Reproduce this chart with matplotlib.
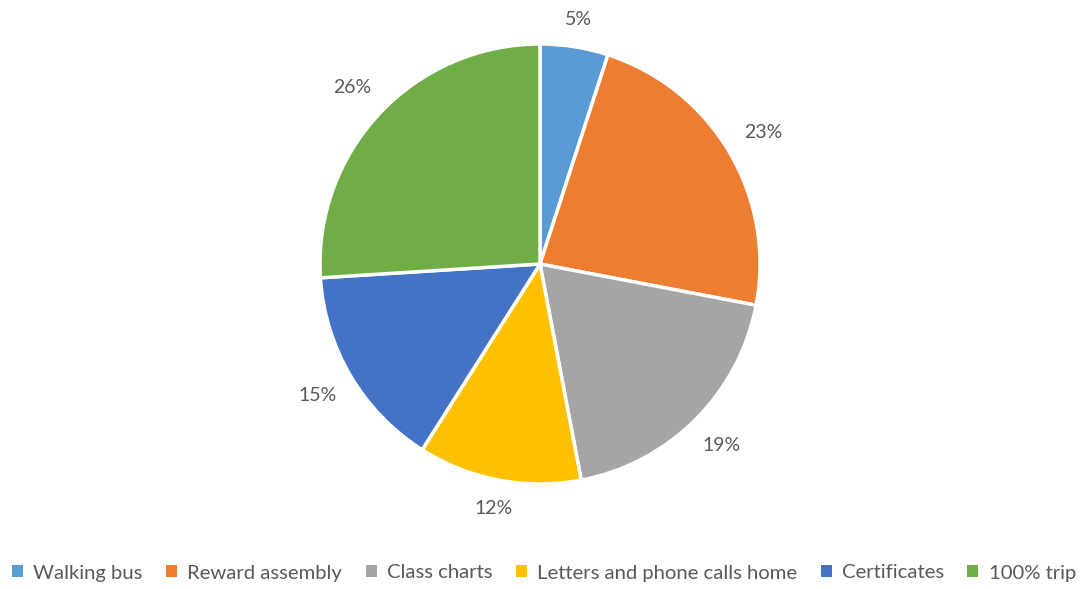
import matplotlib
matplotlib.use("Agg")
import numpy as np
import matplotlib.pyplot as plt
from matplotlib.patches import Patch

categories = ["Walking bus", "Reward assembly", "Class charts",
              "Letters and phone calls home", "Certificates", "100% trip"]
values = [5, 23, 19, 12, 15, 26]
colors = ["#5B9BD5", "#ED7D31", "#A5A5A5", "#FFC000", "#4472C4", "#70AD47"]

plt.rcParams['font.family'] = ['Lato', 'DejaVu Sans']
W, H = 1088, 589
fig = plt.figure(figsize=(W/100, H/100), dpi=100)
cx, cy, r = 540, 264, 220
ax = fig.add_axes([(cx - r)/W, (H - cy - r)/H, 2*r/W, 2*r/H])
wedges, texts, autotexts = ax.pie(
    values, colors=colors, startangle=90, counterclock=False,
    autopct=lambda p: f"{p:.0f}%", pctdistance=1.17,
    wedgeprops=dict(edgecolor="white", linewidth=2.5),
    textprops=dict(color="#595959", fontsize=14))
ax.set_xlim(-1, 1)
ax.set_ylim(-1, 1)
ax.set_aspect('equal')
ax.axis('off')

# place labels like Excel: bounding box at a fixed gap outside the pie
fig.canvas.draw()
renderer = fig.canvas.get_renderer()
gap = 19 / r
for w, t in zip(wedges, autotexts):
    ang = np.deg2rad((w.theta1 + w.theta2) / 2)
    bb = t.get_window_extent(renderer)
    hw, hh = bb.width / 2 / r, bb.height / 2 / r * 0.8
    d = 1 + gap + hw * abs(np.cos(ang)) + hh * abs(np.sin(ang))
    t.set_position((d * np.cos(ang), d * np.sin(ang)))
    t.set_ha('center'); t.set_va('center')

handles = [Patch(facecolor=c, edgecolor='none') for c in colors]
fig.legend(handles, categories, loc='center', bbox_to_anchor=(0.5, 1 - 573/H),
           ncol=6, frameon=False, fontsize=14.6, labelcolor="#595959",
           handlelength=0.55, handleheight=0.55, handletextpad=0.5,
           columnspacing=1.15)
fig.savefig("out.png", dpi=100)
